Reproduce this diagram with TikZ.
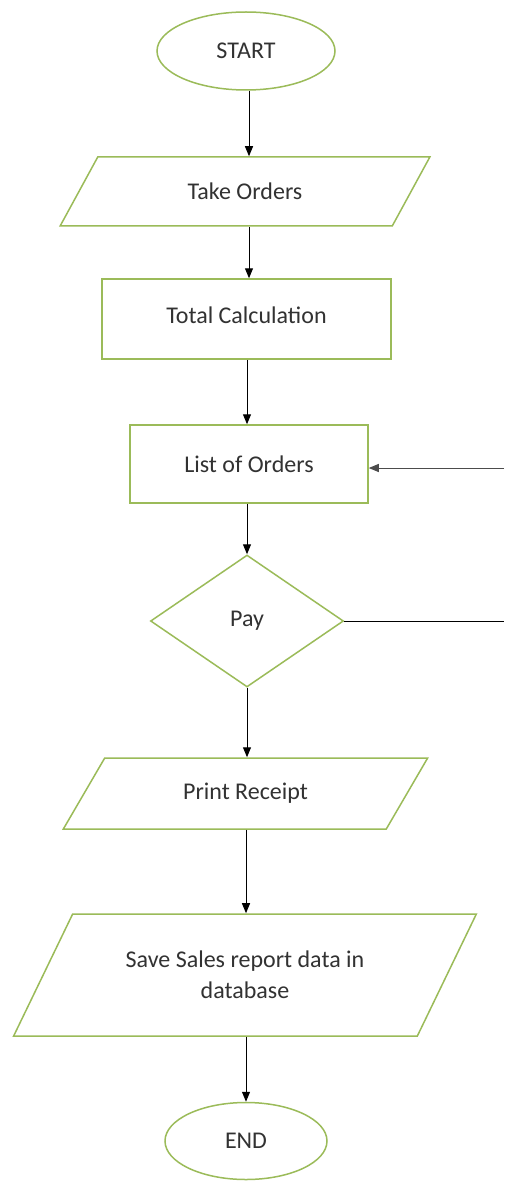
\documentclass[tikz,border=0pt]{standalone}
\usepackage{fontspec}
\setmainfont{Carlito}
\usetikzlibrary{shapes.geometric,arrows.meta}
\definecolor{boxgreen}{RGB}{155,187,89}
\definecolor{txt}{RGB}{50,50,50}
\tikzset{
  flow/.style={draw=boxgreen, line width=1.5pt, fill=white, inner sep=0pt, text=txt,
    font=\fontsize{24}{31}\selectfont, align=center},
  terminal/.style={flow, ellipse},
  process/.style={flow, rectangle},
  io/.style={flow, trapezium, trapezium stretches=true},
  decision/.style={flow, diamond},
  conn/.style={draw=black, line width=1pt, -{Triangle[length=10pt,width=8pt]}},
  plainconn/.style={draw=black, line width=1pt},
}
\begin{document}
\begin{tikzpicture}[x=1pt,y=-1pt]
\useasboundingbox (0,0) rectangle (504,1182);
\fill[white] (0,0) rectangle (504,1182);
\node[terminal, minimum width=178pt, minimum height=78pt] (start) at (246,51) {START};
\node[io, minimum width=370pt, minimum height=69pt, trapezium left angle=49, trapezium right angle=131] (take) at (245,191.5) {Take Orders};
\node[process, minimum width=289pt, minimum height=80pt] (total) at (246.5,319) {\raisebox{8pt}{Total Calculation}};
\node[process, minimum width=238pt, minimum height=78pt] (list) at (249,464) {List of Orders};
\node[decision, minimum width=193pt, minimum height=132pt] (pay) at (247,621) {Pay};
\node[io, minimum width=365pt, minimum height=71pt, trapezium left angle=48, trapezium right angle=132] (print) at (245.5,793.5) {Print Receipt};
\node[io, minimum width=464pt, minimum height=122pt, trapezium left angle=49.5, trapezium right angle=130.5] (save) at (245,975) {Save Sales report data in\\database};
\node[terminal, minimum width=162pt, minimum height=77pt] (end) at (246,1141) {END};
\coordinate (rin) at (504,468);
\coordinate (rout) at (504,621);
\draw[conn] (start.south -| 249,0) -- (take.north -| 249,0);
\draw[conn] (take.south -| 249,0) -- (total.north -| 249,0);
\draw[conn] (total.south -| 247,0) -- (list.north -| 247,0);
\draw[conn] (pay.north |- list.south) -- (pay.north);
\draw[conn] (pay.south) -- (print.north -| pay.south);
\draw[conn] (print.south -| 246,0) -- (save.north -| 246,0);
\draw[conn] (save.south -| 246,0) -- (end.north -| 246,0);
\draw[plainconn] (pay.east) -- (rout);
\draw[conn, draw=black!70] (rin) -- (rin -| list.east);
\end{tikzpicture}
\end{document}
